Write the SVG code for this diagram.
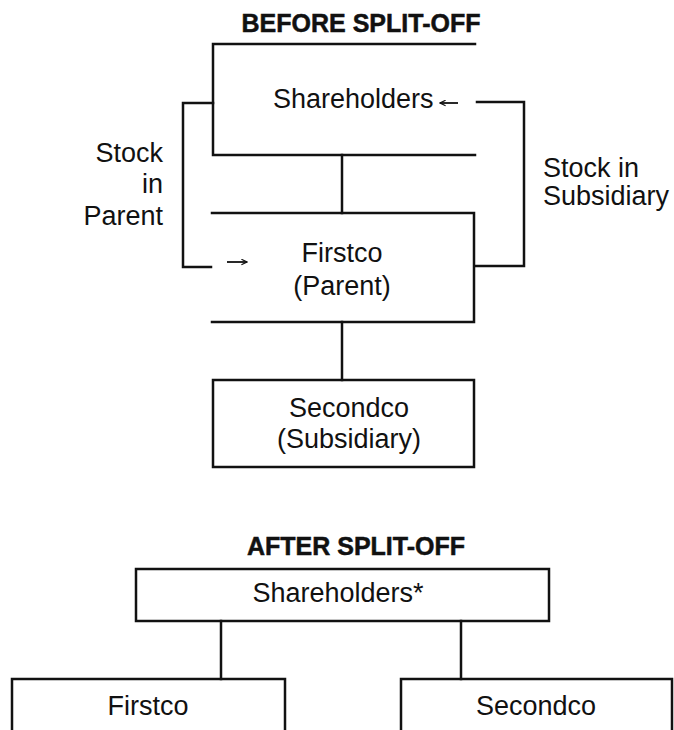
<svg xmlns="http://www.w3.org/2000/svg" width="674" height="730" viewBox="0 0 674 730">
<style>
.ln{fill:none;stroke:#111;stroke-width:2.5;stroke-linecap:square}
.ar{fill:none;stroke:#111;stroke-width:1.8}
.t{font-family:"Liberation Sans",Arial,sans-serif;font-size:27px;fill:#111}
.h{font-family:"Liberation Sans",Arial,sans-serif;font-size:25px;font-weight:bold;fill:#111;stroke:#111;stroke-width:0.5}
.m{text-anchor:middle}
.e{text-anchor:end}
</style>
<defs>
<marker id="ah" viewBox="0 0 10 10" refX="9" refY="5" markerWidth="7" markerHeight="7" orient="auto" markerUnits="userSpaceOnUse">
<path d="M1,1 L9,5 L1,9" fill="none" stroke="#111" stroke-width="1.6"/>
</marker>
</defs>
<rect width="674" height="730" fill="#fff"/>
<text class="h m" x="361" y="32">BEFORE SPLIT-OFF</text>
<text class="h m" x="356" y="555">AFTER SPLIT-OFF</text>
<g id="connectors">
<path class="ln" d="M342,155 V213"/>
<path class="ln" d="M342,322 V380"/>
<path class="ln" d="M213,103 H183 V267 H211"/>
<path class="ar" d="M227,262 H247" marker-end="url(#ah)"/>
<path class="ln" d="M475,266 H524 V102 H477"/>
<path class="ar" d="M458,103 H440" marker-end="url(#ah)"/>
<path class="ln" d="M221,621 V679"/>
<path class="ln" d="M461,621 V679"/>
</g>
<g id="stock-parent-label">
<text class="t e" x="163" y="162">Stock</text>
<text class="t e" x="163" y="193">in</text>
<text class="t e" x="163" y="225">Parent</text>
</g>
<g id="stock-sub-label">
<text class="t" x="543" y="177">Stock in</text>
<text class="t" x="543" y="205">Subsidiary</text>
</g>
<g id="shareholders-before">
<path class="ln" d="M475,44 H213 V155 H475"/>
<text class="t" x="273" y="108">Shareholders</text>
</g>
<g id="firstco-before">
<path class="ln" d="M212,213 H474 V322 H212"/>
<text class="t m" x="342" y="262">Firstco</text>
<text class="t m" x="342" y="295">(Parent)</text>
</g>
<g id="secondco-before">
<rect class="ln" x="213" y="380" width="261" height="87"/>
<text class="t m" x="349" y="417">Secondco</text>
<text class="t m" x="349" y="448">(Subsidiary)</text>
</g>
<g id="shareholders-after">
<rect class="ln" x="136" y="569" width="413" height="52"/>
<text class="t m" x="338" y="602">Shareholders*</text>
</g>
<g id="firstco-after">
<rect class="ln" x="12" y="679" width="273" height="70"/>
<text class="t m" x="148" y="715">Firstco</text>
</g>
<g id="secondco-after">
<rect class="ln" x="401" y="679" width="271" height="70"/>
<text class="t m" x="536" y="715">Secondco</text>
</g>
</svg>
